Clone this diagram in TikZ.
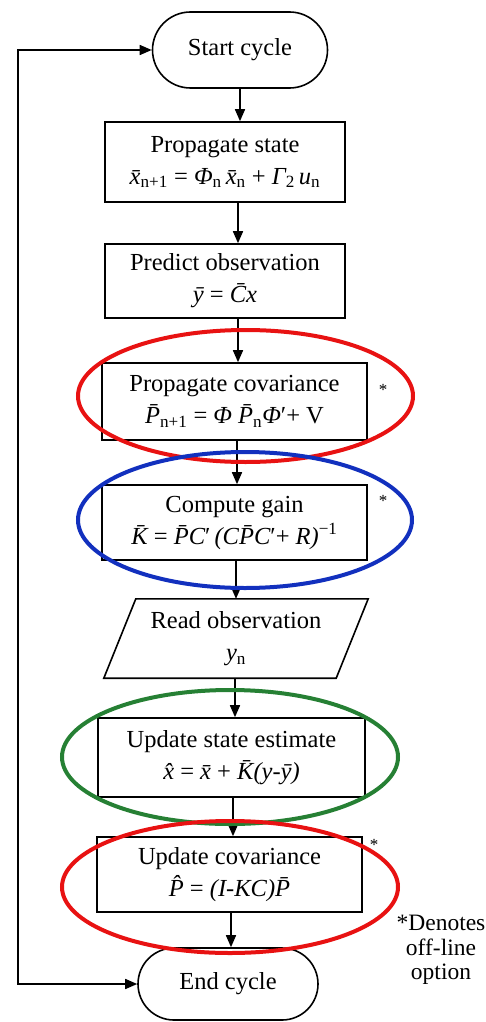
\documentclass[tikz,border=0pt]{standalone}
\usepackage{fontspec}
\setmainfont{Liberation Serif}
\usetikzlibrary{arrows.meta}
\definecolor{ringred}{RGB}{232,18,18}
\definecolor{ringblue}{RGB}{18,48,190}
\definecolor{ringgreen}{RGB}{38,128,52}
\newcommand{\vi}[1]{{\itshape #1}}
\newcommand{\lo}[1]{\textsubscript{#1}}
\newcommand{\hi}[1]{\textsuperscript{#1}}
\begin{document}
\begin{tikzpicture}[x=1pt,y=-1pt,
  txt/.style={font=\fontsize{24.5}{32}\selectfont, align=center, inner sep=0pt},
  box/.style={txt, draw, line width=1.6pt, fill=white},
  term/.style={txt, draw, line width=1.6pt, fill=white},
  arr/.style={line width=1.6pt, -{Triangle[length=12pt,width=10pt]}},
  ring/.style={line width=4pt},
  star/.style={font=\fontsize{17}{17}\selectfont, inner sep=0pt}]
\useasboundingbox (0,0) rectangle (485,1022);

% terminals
\node[term, minimum width=175pt, minimum height=76pt, rounded corners=38pt] (start) at (240,50) {Start cycle};
\node[term, minimum width=180pt, minimum height=72pt, rounded corners=36pt] (end) at (228,984) {End cycle};

% process boxes
\node[box, minimum width=240pt, minimum height=80pt] (ps) at (225,162)
  {Propagate state\\ \vi{\={x}}\lo{n+1} = \vi{Φ}\lo{n}\,\vi{\={x}}\lo{n} + \vi{Γ}\lo{2}\,\vi{u}\lo{n}};
\node[box, minimum width=240pt, minimum height=74pt] (po) at (225,281)
  {Predict observation\\ \vi{\={y}} = \vi{\={C}x}};
\node[box, minimum width=265pt, minimum height=77pt] (pc) at (234.5,401.5)
  {Propagate covariance\\ \vi{\={P}}\lo{n+1} = \vi{Φ} \vi{\={P}}\lo{n}\vi{Φ}′+ V};
\node[box, minimum width=265pt, minimum height=75pt] (cg) at (234.5,522.5)
  {Compute gain\\ \vi{\={K}} = \vi{\={P}C}′\,\vi{(C\={P}C}′+ \vi{R)}\hi{−1}};
\node[txt, minimum width=232pt, minimum height=79pt] (ro) at (236,638.5)
  {Read observation\\ \vi{y}\lo{n}};
\draw[line width=1.6pt] ([xshift=16pt]ro.north west) -- ([xshift=16pt]ro.north east)
  -- ([xshift=-16pt]ro.south east) -- ([xshift=-16pt]ro.south west) -- cycle;
\node[box, minimum width=267pt, minimum height=79pt] (us) at (231.5,757.5)
  {Update state estimate\\ \vi{\^{x}} = \vi{\={x}} + \vi{\={K}(y-\={y})}};
\node[box, minimum width=265pt, minimum height=75pt] (uc) at (229.5,874.5)
  {Update covariance\\ \vi{\^{P}} = \vi{(I-KC)\={P}}};

% connector x positions
\coordinate (x1) at (240,0);
\coordinate (x2) at (238,0);
\coordinate (x3) at (238,0);
\coordinate (x4) at (237,0);
\coordinate (x5) at (236,0);
\coordinate (x6) at (235,0);
\coordinate (x7) at (233,0);
\coordinate (x8) at (231,0);
\coordinate (loopx) at (18,0);

\draw[arr] (start.south -| x1) -- (ps.north -| x1);
\draw[arr] (ps.south -| x2) -- (po.north -| x2);
\draw[arr] (po.south -| x3) -- (pc.north -| x3);
\draw[arr] (pc.south -| x4) -- (cg.north -| x4);
\draw[arr] (cg.south -| x5) -- (ro.north -| x5);
\draw[arr] (ro.south -| x6) -- (us.north -| x6);
\draw[arr] (us.south -| x7) -- (uc.north -| x7);
\draw[arr] (uc.south -| x8) -- (end.north -| x8);
\draw[line width=1.6pt, {Triangle[length=12pt,width=10pt]}-{Triangle[length=12pt,width=10pt]}]
  (end.west) -- (end.west -| loopx) -- (start.west -| loopx) -- (start.west);

% highlight rings
\draw[ring, ringred] (245.5,396) ellipse [x radius=167.5, y radius=66];
\draw[ring, ringblue] (245,520) ellipse [x radius=167, y radius=68];
\draw[ring, ringgreen] (230,757) ellipse [x radius=168, y radius=67];
\draw[ring, ringred] (230,887) ellipse [x radius=168, y radius=66];

% stars and note
\node[star] (s1) at (383,390) {*};
\node[star] (s2) at (383,501) {*};
\node[star] (s3) at (374,845) {*};
\node[font=\fontsize{23.5}{24.5}\selectfont, align=center, inner sep=0pt] (note) at (441,950)
  {*Denotes\\off-line\\option};
\end{tikzpicture}
\end{document}
